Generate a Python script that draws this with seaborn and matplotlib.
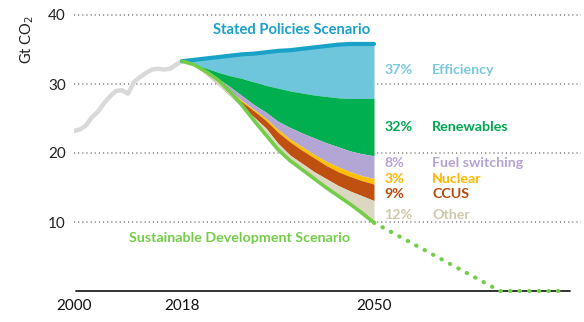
import matplotlib
matplotlib.use("Agg")
import matplotlib.pyplot as plt
import seaborn as sns
import pandas as pd

# ---------------- data ----------------
hist_years = [2000, 2001, 2002, 2003, 2004, 2005, 2006, 2007, 2008, 2009,
              2010, 2011, 2012, 2013, 2014, 2015, 2016, 2017, 2018]
hist_co2 = [23.2, 23.4, 24.0, 25.2, 26.0, 27.2, 28.2, 29.0, 29.1, 28.6,
            30.3, 31.0, 31.6, 32.1, 32.2, 32.1, 32.2, 32.8, 33.3]

proj_years = [2018, 2020, 2022, 2024, 2026, 2028, 2030, 2032, 2034,
              2036, 2038, 2040, 2042, 2044, 2046, 2048, 2050]
stated_policies = [33.3, 33.5, 33.7, 33.9, 34.1, 34.3, 34.4, 34.6, 34.8,
                   34.9, 35.1, 35.3, 35.5, 35.7, 35.8, 35.8, 35.8]
efficiency_bottom = [33.3, 32.9, 32.3, 31.7, 31.2, 30.8, 30.3, 29.8, 29.4,
                     29.0, 28.7, 28.4, 28.2, 28.0, 27.9, 27.9, 27.9]
renewables_bottom = [33.3, 32.8, 31.9, 30.8, 29.6, 28.3, 27.0, 25.9, 24.6,
                     23.7, 22.9, 22.2, 21.5, 20.9, 20.3, 19.9, 19.6]
fuel_switch_bottom = [33.3, 32.7, 31.6, 30.3, 29.0, 27.6, 26.3, 25.0, 23.4,
                      22.0, 20.9, 19.8, 18.8, 18.0, 17.3, 16.7, 16.3]
nuclear_bottom = [33.3, 32.7, 31.5, 30.2, 28.8, 27.4, 26.1, 24.7, 23.0,
                  21.6, 20.4, 19.3, 18.2, 17.3, 16.6, 16.0, 15.5]
ccus_bottom = [33.3, 32.7, 31.4, 29.9, 28.3, 26.7, 25.2, 23.6, 21.4,
               19.7, 18.5, 17.3, 16.3, 15.3, 14.5, 13.8, 13.1]
sustainable_dev = [33.3, 32.8, 31.8, 30.6, 28.9, 26.9, 24.7, 22.6, 20.5,
                   18.9, 17.6, 16.3, 15.0, 13.8, 12.6, 11.3, 9.9]

sds_ext_years = [2050, 2071, 2082]
sds_ext = [9.9, 0.0, 0.0]

shares = ["37%", "32%", "8%", "3%", "9%", "12%"]
measures = ["Efficiency", "Renewables", "Fuel switching", "Nuclear", "CCUS", "Other"]
label_y = [32.0, 23.8, 18.5, 16.2, 14.1, 11.0]

y_ticks = [10, 20, 30, 40]
x_ticks = [2000, 2018, 2050]

# ---------------- style ----------------
sns.set_theme(style="white")
plt.rcParams["font.family"] = ["Lato", "DejaVu Sans"]

fill_colors = ["#6ec6dd", "#00b050", "#b4a6d4", "#ffc000", "#c0500f", "#dcd7c1"]
text_colors = ["#7ac8de", "#00a651", "#b4a3d3", "#ffb800", "#b8480c", "#cfc8ab"]
sps_color = "#1aa1c8"
sds_color = "#74cd48"

fig = plt.figure(figsize=(5.84, 3.22), dpi=100)
ax = fig.add_axes([74 / 584, 31 / 322, (581 - 74) / 584, 282.9 / 322])

df_proj = pd.DataFrame({"year": proj_years, "sps": stated_policies,
                        "eff": efficiency_bottom, "ren": renewables_bottom,
                        "fs": fuel_switch_bottom, "nuc": nuclear_bottom,
                        "ccus": ccus_bottom, "sds": sustainable_dev})

bounds = ["sps", "eff", "ren", "fs", "nuc", "ccus", "sds"]
for i in range(6):
    ax.fill_between(df_proj["year"], df_proj[bounds[i + 1]], df_proj[bounds[i]],
                    color=fill_colors[i], linewidth=0, zorder=2)

df_hist = pd.DataFrame({"year": hist_years, "co2": hist_co2})
sns.lineplot(data=df_hist, x="year", y="co2", color="#d9d9d9", linewidth=3.2,
             ax=ax, zorder=3)
sns.lineplot(data=df_proj, x="year", y="sps", color=sps_color, linewidth=3.0,
             ax=ax, zorder=4)
sns.lineplot(data=df_proj, x="year", y="sds", color=sds_color, linewidth=2.6,
             ax=ax, zorder=4)

# grid lines
for yv in y_ticks:
    ax.axhline(yv, color="#8c8c8c", linewidth=1.3, linestyle=(0, (0.6, 1.7)),
               zorder=1)

ax.set_xlim(2000, 2084.5)
ax.set_ylim(0, 41)

# baseline (x axis line)
ax.axhline(0, xmin=0.3 / 84.5, xmax=82.6 / 84.5, color="#222222",
           linewidth=1.3, zorder=4, clip_on=False)
ax.plot(sds_ext_years, sds_ext, color=sds_color, linewidth=3,
        linestyle=(0, (0.1, 2.2)), dash_capstyle="round", zorder=6, clip_on=False)

ax.set_yticks(y_ticks)
ax.set_yticklabels([str(v) for v in y_ticks], fontsize=11, color="#222222")
ax.set_xticks(x_ticks)
ax.set_xticklabels([str(v) for v in x_ticks], fontsize=11, color="#111111")
ax.tick_params(axis="both", length=0, pad=6)
ax.set_xlabel("")
ax.set_ylabel("Gt CO$_2$", fontsize=10.5, color="#222222")
ax.yaxis.set_label_coords(-0.075, 0.887)

for s in ["top", "right", "left", "bottom"]:
    ax.spines[s].set_visible(False)

# text annotations
ax.text(2036.3, 37.8, "Stated Policies Scenario", color=sps_color,
        fontsize=10.6, fontweight="bold", ha="center", va="center")
ax.text(2027.6, 7.7, "Sustainable Development Scenario", color=sds_color,
        fontsize=10.3, fontweight="bold", ha="center", va="center")
for sh, name, yy, c in zip(shares, measures, label_y, text_colors):
    ax.text(2051.7, yy, sh, color=c, fontsize=10.3, fontweight="bold",
            ha="left", va="center")
    ax.text(2059.7, yy, name, color=c, fontsize=10.3, fontweight="bold",
            ha="left", va="center")

fig.savefig("out.png", dpi=100)
